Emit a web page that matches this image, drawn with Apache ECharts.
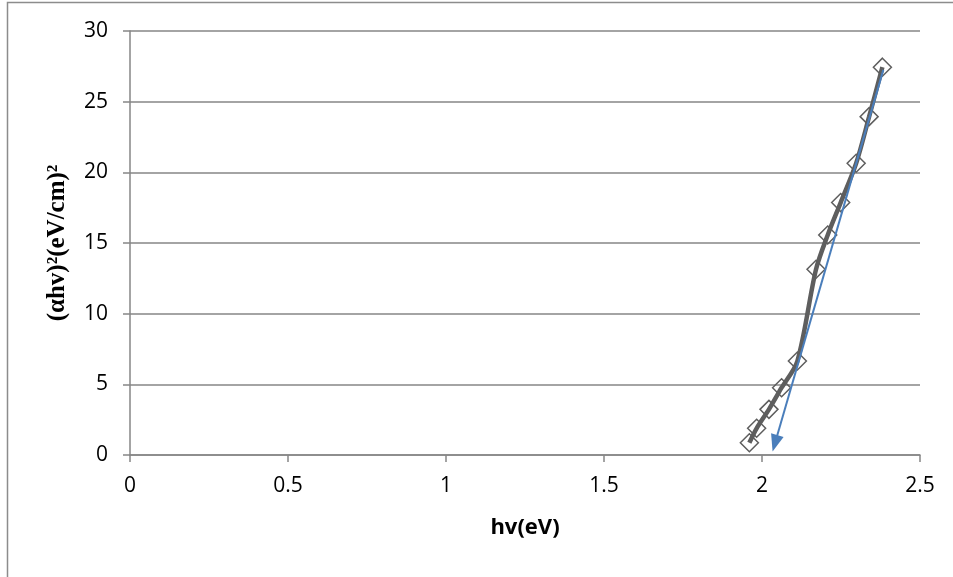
<!DOCTYPE html>
<html>
<head>
<meta charset="utf-8">
<script src="https://cdn.jsdelivr.net/npm/echarts@6/dist/echarts.min.js"></script>
<style>
  html, body { margin: 0; padding: 0; background: #fff; }
  #chart { width: 953px; height: 577px; }
</style>
</head>
<body>
<div id="chart"></div>
<script>
// photon energy hv (eV) and (alpha*hv)^2
var hv = [1.960, 1.983, 2.022, 2.062, 2.112, 2.171, 2.208, 2.249, 2.298, 2.339, 2.381];
var ahv2 = [0.87, 1.89, 3.23, 4.76, 6.65, 13.14, 15.57, 17.86, 20.64, 23.94, 27.44];
// tangent (extrapolation) line: start and arrow end
var fitStart = [2.384, 27.25];
var fitEnd = [2.041, 0.83];

var points = hv.map(function (x, i) { return [x, ahv2[i]]; });

var myChart = echarts.init(document.getElementById("chart"));
var option = {
    backgroundColor: "#fff",
    animation: false,
    graphic: [{
        type: "rect",
        shape: { x: 7.5, y: 2.5, width: 1000, height: 1000 },
        style: { fill: "none", stroke: "#8c8c8c", lineWidth: 1.5 },
        silent: true
    }],
    grid: { left: 130, right: 33, top: 31, bottom: 122 },
    xAxis: {
        type: "value",
        min: 0,
        max: 2.5,
        interval: 0.5,
        name: "hv(eV)",
        nameLocation: "middle",
        nameGap: 62,
        nameTextStyle: { fontFamily: "Open Sans", fontWeight: "bold", fontSize: 22, color: "#000" },
        axisLine: { show: true, lineStyle: { color: "#868686", width: 1.5 } },
        axisTick: { show: true, length: 7, lineStyle: { color: "#868686", width: 1.5 } },
        axisLabel: { fontFamily: "Open Sans", fontSize: 21, color: "#000", margin: 21 },
        splitLine: { show: false }
    },
    yAxis: {
        type: "value",
        min: 0,
        max: 30,
        interval: 5,
        name: "(\u03b1hv)\u00b2(eV/cm)\u00b2",
        nameLocation: "middle",
        nameGap: 60,
        nameRotate: 90,
        nameTextStyle: { fontFamily: "Liberation Serif", fontWeight: "bold", fontSize: 25, color: "#000" },
        axisLine: { show: true, lineStyle: { color: "#868686", width: 1.5 } },
        axisTick: { show: true, length: 7, lineStyle: { color: "#868686", width: 1.5 } },
        axisLabel: { fontFamily: "Open Sans", fontSize: 21, color: "#000", margin: 22 },
        splitLine: { show: true, lineStyle: { color: "#868686", width: 1.5 } }
    },
    series: [
        {
            type: "line",
            data: points,
            smooth: 0.3,
            symbol: "diamond",
            symbolSize: 18,
            lineStyle: { color: "#5e5e5e", width: 4.5 },
            itemStyle: { color: "rgba(255,255,255,0)", borderColor: "#5e5e5e", borderWidth: 1.5 },
            z: 2,
            markLine: {
                silent: true,
                symbol: ["none", "triangle"],
                symbolSize: [13, 17],
                label: { show: false },
                lineStyle: { color: "#4a7ebb", width: 2, type: "solid" },
                data: [[
                    { coord: fitStart },
                    { coord: fitEnd }
                ]]
            }
        }
    ]
};
myChart.setOption(option);
</script>
</body>
</html>
